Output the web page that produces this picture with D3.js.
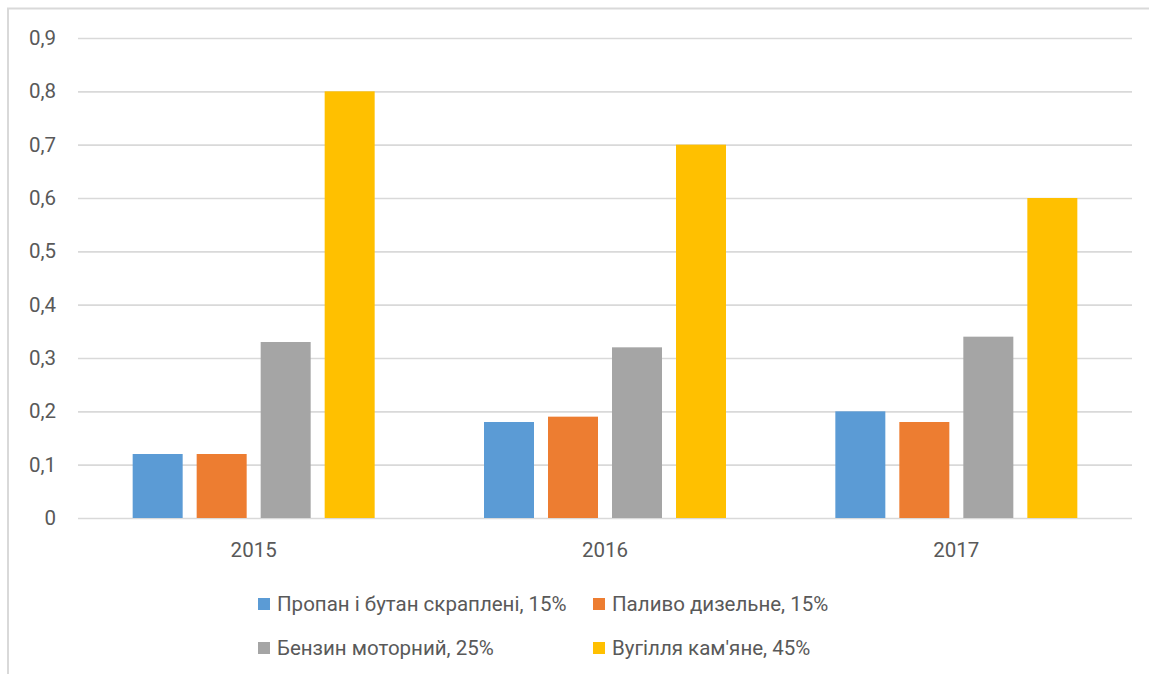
<!DOCTYPE html>
<html>
<head>
<meta charset="utf-8">
<script src="https://cdn.jsdelivr.net/npm/d3@7"></script>
<style>
  html, body { margin: 0; padding: 0; background: #fff; }
  svg { display: block; }
  text { font-family: Roboto, "Open Sans", sans-serif; fill: #595959; }
</style>
</head>
<body>
<svg id="chart" width="1149" height="674"></svg>
<script>
// Years on the category axis
const years = ["2015", "2016", "2017"];
// Fuel types (series) with their shares
const seriesNames = [
  "Пропан і бутан скраплені, 15%",
  "Паливо дизельне, 15%",
  "Бензин моторний, 25%",
  "Вугілля кам'яне, 45%"
];
const seriesColors = ["#5b9bd5", "#ed7d31", "#a5a5a5", "#ffc000"];
// Values per series, one per year
const propaneButane = [0.12, 0.18, 0.20];
const diesel = [0.12, 0.19, 0.18];
const gasoline = [0.33, 0.32, 0.34];
const coal = [0.80, 0.70, 0.60];
const yTicks = [0, 0.1, 0.2, 0.3, 0.4, 0.5, 0.6, 0.7, 0.8, 0.9];

const seriesValues = [propaneButane, diesel, gasoline, coal];

const svg = d3.select("#chart");
const W = 1149, H = 674;
const plot = { left: 78, right: 1132, top: 38, bottom: 518 };
const labelSize = 20.5;
const fontFamily = "Roboto, 'Open Sans', sans-serif";

// Chart frame (top and left edges visible)
svg.append("path")
  .attr("d", `M8,${H} L8,8.5 L${W},8.5`)
  .attr("fill", "none")
  .attr("stroke", "#d9d9d9")
  .attr("stroke-width", 2);

const x0 = d3.scaleBand().domain(years).range([plot.left, plot.right]).paddingInner(0).paddingOuter(0);
const y = d3.scaleLinear().domain([0, 0.9]).range([plot.bottom, plot.top]);

const barW = 50, barGap = 14;
const groupW = seriesNames.length * barW + (seriesNames.length - 1) * barGap;
const x1 = d3.scaleBand().domain(d3.range(seriesNames.length))
  .range([0, groupW]).paddingInner(barGap / (barW + barGap)).paddingOuter(0);

// Gridlines and y-axis labels
const fmt = v => v === 0 ? "0" : d3.format(".1f")(v).replace(".", ",");
const yAxis = d3.axisLeft(y).tickValues(yTicks).tickFormat(fmt)
  .tickSize(-(plot.right - plot.left)).tickPadding(22);
const gy = svg.append("g").attr("transform", `translate(${plot.left},0)`).call(yAxis);
gy.select(".domain").remove();
gy.selectAll(".tick line").attr("stroke", "#d9d9d9").attr("stroke-width", 1.6);
gy.selectAll(".tick text").attr("font-size", labelSize).attr("fill", "#595959")
  .attr("font-family", fontFamily);

// Bars
const groups = svg.append("g").selectAll("g").data(years).join("g")
  .attr("transform", d => `translate(${x0(d) + (x0.bandwidth() - groupW) / 2},0)`);
groups.selectAll("rect")
  .data((d, i) => seriesValues.map((vals, s) => ({ s, v: vals[i] })))
  .join("rect")
  .attr("x", d => x1(d.s))
  .attr("width", x1.bandwidth())
  .attr("y", d => y(d.v))
  .attr("height", d => y(0) - y(d.v))
  .attr("fill", d => seriesColors[d.s]);

// Category axis labels
const xAxis = d3.axisBottom(x0).tickSize(0).tickPadding(24);
const gx = svg.append("g").attr("transform", `translate(0,${plot.bottom})`).call(xAxis);
gx.select(".domain").remove();
gx.selectAll(".tick text").attr("font-size", labelSize).attr("fill", "#595959")
  .attr("font-family", fontFamily);

// Legend, two rows
const legendPos = [
  { x: 258, y: 604 }, { x: 593, y: 604 },
  { x: 258, y: 648 }, { x: 593, y: 648 }
];
const legend = svg.append("g").selectAll("g").data(seriesNames).join("g")
  .attr("transform", (d, i) => `translate(${legendPos[i].x},${legendPos[i].y})`);
legend.append("rect").attr("x", 0).attr("y", -6).attr("width", 12).attr("height", 12)
  .attr("fill", (d, i) => seriesColors[i]);
legend.append("text").attr("x", 19).attr("y", 0).attr("dy", "0.36em")
  .attr("font-size", labelSize)
  .text(d => d);
</script>
</body>
</html>
